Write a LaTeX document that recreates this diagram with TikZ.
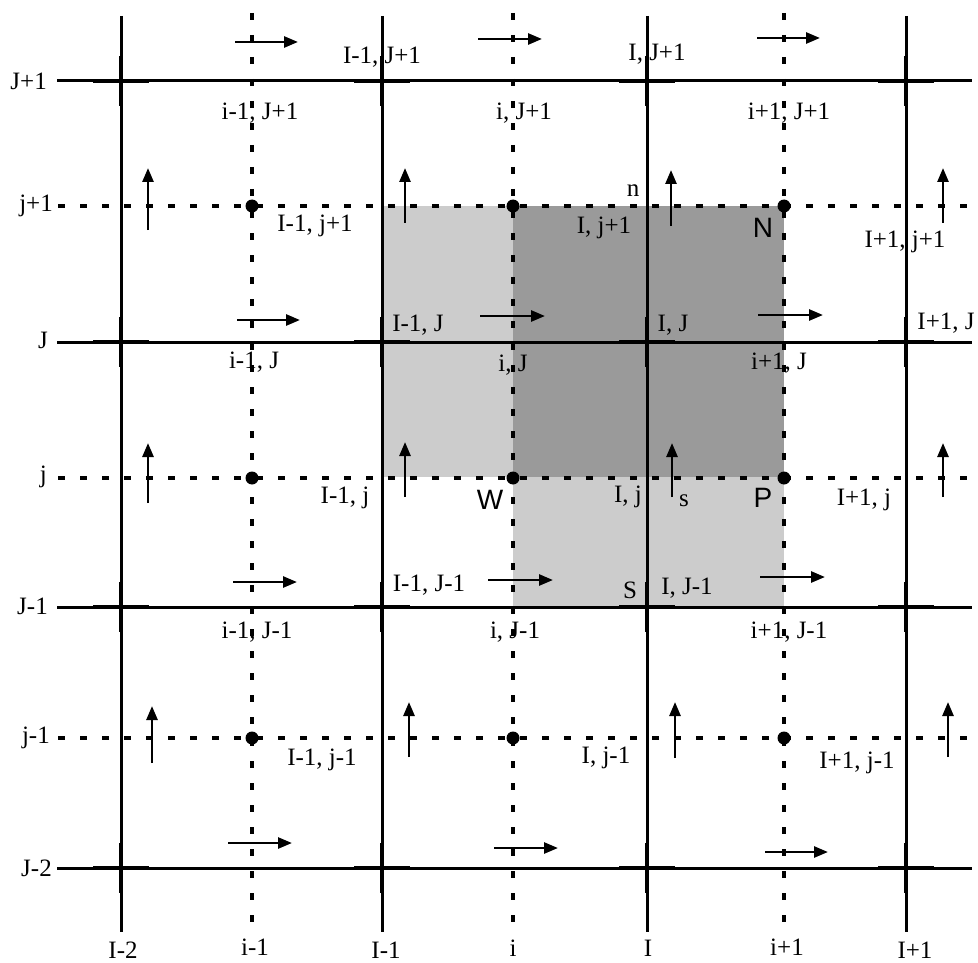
\documentclass[tikz,border=0pt]{standalone}
\usepackage{fontspec}
\setmainfont{Liberation Serif}
\newfontfamily\ptsans{Liberation Sans}
\usetikzlibrary{arrows.meta}
\definecolor{lightshade}{HTML}{CCCCCC}
\definecolor{darkshade}{HTML}{9A9A9A}
\begin{document}
\begin{tikzpicture}[x=1pt,y=-1pt,
  gridline/.style={line width=3pt},
  dotline/.style={line width=3.4pt, dash pattern=on 7pt off 15pt},
  crossmark/.style={line width=4.4pt},
  flow/.style={line width=2.6pt,-{Triangle[length=14pt,width=11pt]}},
  lbl/.style={font=\fontsize{25}{29}\selectfont, inner sep=0pt},
  ptlbl/.style={font=\ptsans\fontsize{28}{32}\selectfont, inner sep=0pt},
  cpoint/.style={circle,fill=black,inner sep=0pt,minimum size=13pt}
]
\useasboundingbox (0,0) rectangle (978,963);
% shading
\fill[lightshade] (382,206) rectangle (513,477);
\fill[darkshade] (513,206) rectangle (784,477);
\fill[lightshade] (513,477) rectangle (784,607);
% solid grid lines
\foreach \y in {81,342,607,868} \draw[gridline] (57,\y) -- (972,\y);
\foreach \x in {121,382,647,906} \draw[gridline] (\x,16) -- (\x,932);
% dotted lines
\foreach \y in {206,478,738} \draw[dotline] (58,\y) -- (967,\y);
\foreach \x in {252,513,784} \draw[dotline] (\x,13) -- (\x,922);
% thick cross marks at solid intersections
\foreach \x in {121,382,647,906}{
  \foreach \y in {81,342,607,868}{
    \draw[crossmark] (\x-28,\y) -- (\x+28,\y);
    \draw[crossmark] (\x,\y-25) -- (\x,\y+25);
  }
}
% points
\foreach \x/\c in {252/a,513/b,784/c}{
  \foreach \y/\r in {206/1,478/2,738/3}{
    \node[cpoint] (p\c\r) at (\x,\y) {};
  }
}
% horizontal velocity arrows
\foreach \xa/\xb/\y in {235/298/42, 478/542/39, 757/820/38,
                        237/300/320, 480/545/316, 758/823/315,
                        233/297/582, 488/553/580, 760/825/577,
                        228/292/843, 494/558/848, 765/828/852}
  \draw[flow] (\xa,\y) -- (\xb,\y);
% vertical velocity arrows
\foreach \x/\ya/\yb in {148/230/168, 405/223/168, 671/226/170, 943/223/168,
                        148/503/443, 405/497/442, 672/497/443, 943/497/443,
                        152/763/706, 409/757/702, 675/758/702, 948/757/702}
  \draw[flow] (\x,\ya) -- (\x,\yb);
% row labels
\node[lbl,anchor=east] (rJp) at (47,81) {J+1};
\node[lbl,anchor=east] (rjp) at (53,206) {j+1};
\node[lbl,anchor=east] (rJ) at (48,340) {J};
\node[lbl,anchor=east] (rj) at (47,477) {j};
\node[lbl,anchor=east] (rJm) at (48,606) {J-1};
\node[lbl,anchor=east] (rjm) at (50,738) {j-1};
\node[lbl,anchor=east] (rJmm) at (52,868) {J-2};
% column labels
\node[lbl,anchor=base] (cIm2) at (123,958) {I-2};
\node[lbl,anchor=base] (cim) at (255,955) {i-1};
\node[lbl,anchor=base] (cIm) at (386,958) {I-1};
\node[lbl,anchor=base] (ci) at (513,956) {i};
\node[lbl,anchor=base] (cI) at (648,956) {I};
\node[lbl,anchor=base] (cip) at (787,955) {i+1};
\node[lbl,anchor=base] (cIp) at (915,958) {I+1};
% interior labels
\node[lbl] (l1) at (382,57) {I-1, J+1};
\node[lbl] (l2) at (657,54) {I, J+1};
\node[lbl] (l3) at (260,113) {i-1, J+1};
\node[lbl] (l4) at (524,113) {i, J+1};
\node[lbl] (l5) at (789,113) {i+1, J+1};
\node[lbl] (l6) at (315,226) {I-1, j+1};
\node[lbl] (l7) at (633,191) {n};
\node[lbl] (l8) at (604,228) {I, j+1};
\node[ptlbl] (lN) at (763,228) {N};
\node[lbl] (l9) at (905,242) {I+1, j+1};
\node[lbl] (l10) at (418,325) {I-1, J};
\node[lbl] (l11) at (673,325) {I, J};
\node[lbl] (l12) at (946,323) {I+1, J};
\node[lbl] (l13) at (254,362) {i-1, J};
\node[lbl] (l14) at (513,365) {i, J};
\node[lbl] (l15) at (779,363) {i+1, J};
\node[lbl] (l16) at (345,498) {I-1, j};
\node[ptlbl] (lW) at (490,500) {W};
\node[lbl] (l17) at (628,497) {I, j};
\node[lbl] (l18) at (684,501) {s};
\node[ptlbl] (lP) at (763,498) {P};
\node[lbl] (l19) at (864,500) {I+1, j};
\node[lbl] (l20) at (429,585) {I-1, J-1};
\node[lbl] (lS) at (630,590) {S};
\node[lbl] (l21) at (687,588) {I, J-1};
\node[lbl] (l22) at (257,632) {i-1, J-1};
\node[lbl] (l23) at (515,632) {i, J-1};
\node[lbl] (l24) at (789,632) {i+1, J-1};
\node[lbl] (l25) at (322,760) {I-1, j-1};
\node[lbl] (l26) at (606,758) {I, j-1};
\node[lbl] (l27) at (857,763) {I+1, j-1};
\end{tikzpicture}
\end{document}
